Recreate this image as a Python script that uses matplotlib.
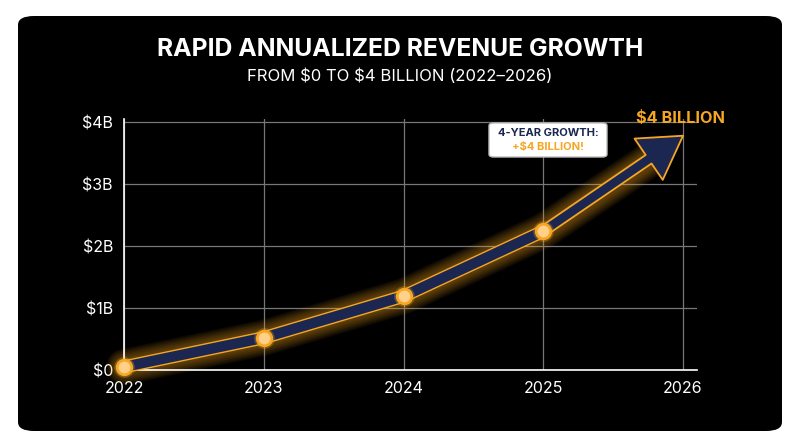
import matplotlib
matplotlib.use("Agg")
import matplotlib.pyplot as plt
from matplotlib.patches import FancyBboxPatch
import matplotlib.patheffects as pe

plt.rcParams['font.family'] = ['Inter', 'DejaVu Sans']
plt.rcParams['text.parse_math'] = False

years = [2022, 2023, 2024, 2025]
revenue = [0.05, 0.52, 1.19, 2.24]
end_year, end_value = 2026, 3.78
ytick_vals = [0, 1, 2, 3, 4]
ytick_labels = ["$0", "$1B", "$2B", "$3B", "$4B"]
xtick_vals = [2022, 2023, 2024, 2025, 2026]

ORANGE = "#F5A623"
NAVY = "#1B2750"

fig = plt.figure(figsize=(8, 4.47), dpi=100)
fig.patch.set_facecolor("white")
fig.patches.append(FancyBboxPatch((18/800, 16/447), 764/800, 415/447,
                                  boxstyle="round,pad=0,rounding_size=0.02",
                                  transform=fig.transFigure, fc="black", ec="none", zorder=-10))

ax = fig.add_axes([124/800, (447-370)/447, 573/800, 251/447])
ax.set_facecolor("none")
ax.set_xlim(2022, 2026.1)
ax.set_ylim(0, 4.05)
ax.grid(True, color="#777777", lw=0.9)
ax.set_axisbelow(True)
for s in ["top", "right"]:
    ax.spines[s].set_visible(False)
for s in ["left", "bottom"]:
    ax.spines[s].set_color("white")
    ax.spines[s].set_linewidth(1.2)
ax.set_xticks(xtick_vals)
ax.set_xticklabels([str(x) for x in xtick_vals])
ax.set_yticks(ytick_vals)
ax.set_yticklabels(ytick_labels)
ax.tick_params(colors="white", labelsize=11.5, length=0, pad=8)

gx = years + [2025.8]
gy = revenue + [3.45]
for lw in range(26, 10, -2):
    ax.plot(gx, gy, color=ORANGE, lw=lw, alpha=0.06, solid_capstyle="round",
            solid_joinstyle="round", zorder=2, clip_on=False)
ax.plot(years, revenue, color=NAVY, lw=7.5, solid_capstyle="butt", zorder=3,
        solid_joinstyle="round", clip_on=False,
        path_effects=[pe.Stroke(linewidth=9.5, foreground=ORANGE), pe.Normal()])
ax.annotate("", xy=(end_year, end_value), xytext=(years[-1], revenue[-1]),
            arrowprops=dict(arrowstyle="simple,head_length=2.5,head_width=3.0,tail_width=0.62",
                            fc=NAVY, ec=ORANGE, lw=1.3, mutation_scale=12,
                            shrinkA=0, shrinkB=0), zorder=4)
ax.scatter(years, revenue, s=220, color=ORANGE, alpha=0.3, zorder=5, lw=0, clip_on=False)
ax.scatter(years, revenue, s=110, color="#FFD08A", edgecolor=ORANGE, lw=2, zorder=6, clip_on=False)

fig.text(0.5, 1-50/447, "RAPID ANNUALIZED REVENUE GROWTH", color="white",
         fontsize=17.8, fontweight="bold", ha="center", va="center")
fig.text(0.5, 1-76/447, "FROM $0 TO $4 BILLION (2022\u20132026)", color="white",
         fontsize=12, ha="center", va="center")
fig.text(680/800, 1-118/447, "$4 BILLION", color=ORANGE, fontsize=11.7,
         fontweight="bold", ha="center", va="center")
fig.patches.append(FancyBboxPatch((489/800, 1-157/447), 118/800, 34/447,
                                  boxstyle="round,pad=0,rounding_size=0.006",
                                  transform=fig.transFigure, fc="white", ec="#BBBBBB", zorder=5))
fig.text(548/800, 1-133/447, "4-YEAR GROWTH:", color=NAVY, fontsize=8,
         fontweight="bold", ha="center", va="center", zorder=6)
fig.text(548/800, 1-147/447, "+$4 BILLION!", color=ORANGE, fontsize=8,
         fontweight="bold", ha="center", va="center", zorder=6)

fig.savefig("out.png", dpi=100, facecolor=fig.get_facecolor())
